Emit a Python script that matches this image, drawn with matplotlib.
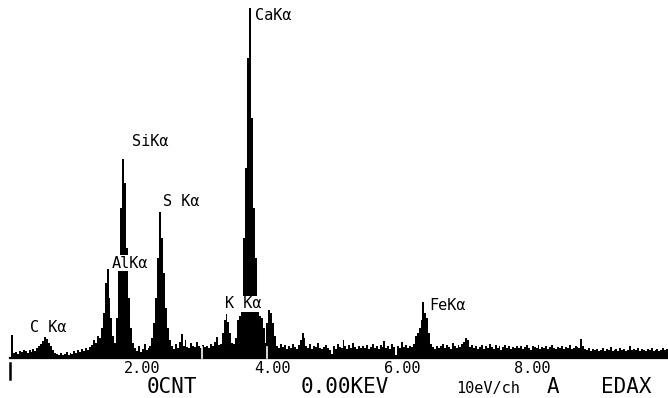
#!/usr/bin/env python3
"""EDAX spectrum: counts per 0.03 keV bin, drawn as a filled black histogram"""
import numpy as np
import matplotlib
matplotlib.use("Agg")
import matplotlib.pyplot as plt

# bin width in keV, spectrum starts at 0 keV
BIN_KEV = 0.03

# counts (in display units), one value per bin
counts = [
    23, 5, 6, 4, 7, 6, 8, 7, 5, 8, 6, 9, 7, 10, 12, 14, 17, 21, 19, 15,
    12, 8, 5, 4, 3, 5, 3, 4, 6, 3, 5, 4, 7, 5, 8, 6, 9, 7, 10, 8,
    11, 13, 18, 15, 22, 20, 30, 45, 75, 89, 60, 40, 22, 15, 40, 95, 150, 199, 175, 110,
    60, 30, 15, 10, 7, 12, 6, 9, 14, 8, 10, 12, 20, 35, 60, 100, 146, 120, 85, 50,
    30, 18, 12, 9, 14, 10, 16, 24, 12, 18, 11, 10, 15, 12, 11, 16, 12, 10, 13, 11,
    12, 10, 14, 12, 16, 21, 13, 14, 25, 38, 44, 36, 25, 15, 14, 20, 38, 42, 60, 120,
    190, 300, 350, 240, 150, 100, 55, 42, 40, 30, 15, 35, 48, 45, 35, 22, 12, 10, 14, 11,
    13, 9, 12, 10, 14, 11, 9, 13, 18, 25, 20, 12, 10, 14, 9, 12, 11, 15, 10, 9,
    11, 13, 10, 8, 4, 12, 9, 14, 11, 10, 18, 12, 9, 13, 10, 15, 11, 9, 12, 10,
    12, 10, 13, 9, 11, 14, 10, 12, 9, 13, 11, 17, 10, 12, 9, 14, 11, 3, 12, 10,
    16, 11, 13, 10, 12, 11, 14, 22, 25, 30, 38, 56, 45, 40, 25, 14, 11, 9, 12, 10,
    12, 14, 10, 13, 11, 9, 15, 12, 10, 13, 11, 14, 16, 20, 18, 11, 13, 10, 12, 9,
    11, 13, 9, 12, 10, 14, 11, 9, 13, 10, 12, 8, 11, 13, 10, 12, 9, 11, 10, 12,
    10, 12, 9, 11, 13, 10, 8, 12, 11, 10, 13, 9, 11, 10, 12, 9, 11, 13, 10, 9,
    11, 10, 12, 9, 11, 10, 13, 9, 10, 12, 11, 10, 19, 12, 9, 8, 10, 7, 9, 8,
    9, 7, 8, 10, 7, 9, 8, 11, 7, 8, 9, 7, 10, 8, 9, 7, 8, 12, 8, 9,
    8, 10, 7, 9, 8, 7, 9, 8, 10, 7, 8, 9, 7, 8, 10, 8, 9,
]

# peak labels: text, energy (keV) of left edge, height of text centre
peak_labels = ["CaK\u03b1", "SiK\u03b1", "S K\u03b1", "AlK\u03b1", "C K\u03b1", "K K\u03b1", "FeK\u03b1"]
label_kev = [3.75, 1.86, 2.34, 1.55, 0.29, 3.29, 6.43]
label_cnt = [343, 216, 156, 95, 31, 54, 53]

tick_kev = [2, 4, 6, 8]
tick_labels = ["2.00", "4.00", "6.00", "8.00"]

# cursor marks (white lines through the bottom of the spectrum)
marker_kev = [2.94, 3.94]

MONO = "DejaVu Sans Mono"

fig = plt.figure(figsize=(6.68, 3.98), dpi=100)
ax = fig.add_axes([0, 0, 1, 1])

edges = np.arange(len(counts) + 1) * BIN_KEV
ax.stairs(counts, edges, fill=True, color="black", linewidth=0, zorder=2)

# baseline
ax.plot([-0.02, 10.2], [0, 0], color="black", lw=1.6, zorder=3)
# left cursor bar below the baseline
ax.plot([-0.01, -0.01], [-5, -21], color="black", lw=1.8, zorder=3)

for k in marker_kev:
    ax.plot([k, k], [0.5, 11], color="white", lw=1.2, zorder=4)

for txt, k, c in zip(peak_labels, label_kev, label_cnt):
    ax.text(k, c, txt, family=MONO, fontsize=11, ha="left", va="center",
            zorder=5, bbox=dict(facecolor="white", edgecolor="none", pad=0.6))

# energy scale labels just under the baseline
for k, lab in zip(tick_kev, tick_labels):
    ax.text(k + 0.02, -15, lab, family=MONO, fontsize=11, ha="center", va="baseline")

ax.set_xticks([])
ax.set_yticks([])
for s in ax.spines.values():
    s.set_visible(False)

ax.set_xlim(-11 / 65, 657 / 65)
ax.set_ylim(-40, 358)

# status line at the bottom
ax.text(2.48, -35, "0CNT", family=MONO, fontsize=15, ha="center", va="baseline")
ax.text(5.14, -35, "0.00KEV", family=MONO, fontsize=15, ha="center", va="baseline")
ax.text(7.34, -35, "10eV/ch", family=MONO, fontsize=11, ha="center", va="baseline")
ax.text(8.34, -35, "A", family=MONO, fontsize=15, ha="center", va="baseline")
ax.text(9.46, -35, "EDAX", family=MONO, fontsize=15, ha="center", va="baseline")

fig.savefig("out.png", dpi=100, facecolor="white")
